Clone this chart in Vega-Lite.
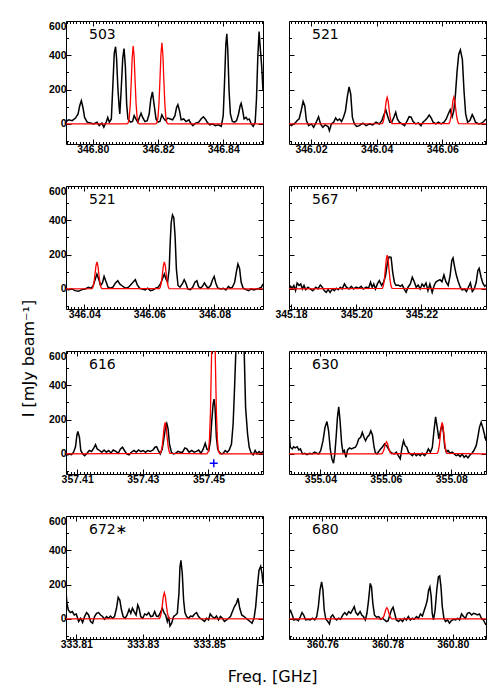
{
"$schema":"https://vega.github.io/schema/vega-lite/v6.json",
"background":"white",
"padding":{"left":19,"top":20,"right":5,"bottom":5},
"columns":2,
"spacing":{"row":42,"column":26},
"bounds":"flush",
"datasets":{
"obs":[
{"p":1,"f":346.7918,"I":14},{"p":1,"f":346.7926,"I":24},{"p":1,"f":346.7937,"I":19},{"p":1,"f":346.7947,"I":34},{"p":1,"f":346.7955,"I":58},{"p":1,"f":346.796,"I":106},{"p":1,"f":346.7965,"I":135},{"p":1,"f":346.797,"I":96},{"p":1,"f":346.7975,"I":38},{"p":1,"f":346.7983,"I":10},{"p":1,"f":346.7993,"I":5},{"p":1,"f":346.8003,"I":0},{"p":1,"f":346.8013,"I":10},{"p":1,"f":346.802,"I":-10},{"p":1,"f":346.8028,"I":5},{"p":1,"f":346.8034,"I":-19},{"p":1,"f":346.8042,"I":14},{"p":1,"f":346.8046,"I":38},{"p":1,"f":346.8051,"I":10},{"p":1,"f":346.8057,"I":29},{"p":1,"f":346.8062,"I":240},{"p":1,"f":346.8066,"I":413},{"p":1,"f":346.807,"I":450},{"p":1,"f":346.8073,"I":384},{"p":1,"f":346.8077,"I":211},{"p":1,"f":346.8081,"I":96},{"p":1,"f":346.8083,"I":58},{"p":1,"f":346.8087,"I":192},{"p":1,"f":346.8092,"I":384},{"p":1,"f":346.8096,"I":439},{"p":1,"f":346.81,"I":336},{"p":1,"f":346.8104,"I":115},{"p":1,"f":346.8108,"I":29},{"p":1,"f":346.8116,"I":10},{"p":1,"f":346.8122,"I":14},{"p":1,"f":346.8127,"I":48},{"p":1,"f":346.8132,"I":29},{"p":1,"f":346.8138,"I":10},{"p":1,"f":346.8143,"I":38},{"p":1,"f":346.8148,"I":62},{"p":1,"f":346.8153,"I":38},{"p":1,"f":346.816,"I":14},{"p":1,"f":346.8167,"I":19},{"p":1,"f":346.8173,"I":58},{"p":1,"f":346.8178,"I":144},{"p":1,"f":346.8183,"I":187},{"p":1,"f":346.8188,"I":115},{"p":1,"f":346.8194,"I":29},{"p":1,"f":346.82,"I":10},{"p":1,"f":346.8206,"I":14},{"p":1,"f":346.8212,"I":53},{"p":1,"f":346.8217,"I":34},{"p":1,"f":346.8223,"I":19},{"p":1,"f":346.823,"I":34},{"p":1,"f":346.8238,"I":29},{"p":1,"f":346.8245,"I":24},{"p":1,"f":346.8252,"I":48},{"p":1,"f":346.8257,"I":96},{"p":1,"f":346.8261,"I":112},{"p":1,"f":346.8266,"I":77},{"p":1,"f":346.8271,"I":24},{"p":1,"f":346.8279,"I":29},{"p":1,"f":346.8286,"I":14},{"p":1,"f":346.8295,"I":24},{"p":1,"f":346.83,"I":5},{"p":1,"f":346.8307,"I":-10},{"p":1,"f":346.8315,"I":5},{"p":1,"f":346.8325,"I":10},{"p":1,"f":346.8332,"I":29},{"p":1,"f":346.8339,"I":42},{"p":1,"f":346.8345,"I":29},{"p":1,"f":346.8351,"I":10},{"p":1,"f":346.8359,"I":-5},{"p":1,"f":346.8367,"I":0},{"p":1,"f":346.8376,"I":-10},{"p":1,"f":346.8385,"I":-5},{"p":1,"f":346.8394,"I":-14},{"p":1,"f":346.84,"I":48},{"p":1,"f":346.8404,"I":240},{"p":1,"f":346.8408,"I":461},{"p":1,"f":346.8411,"I":525},{"p":1,"f":346.8414,"I":432},{"p":1,"f":346.8418,"I":192},{"p":1,"f":346.8422,"I":58},{"p":1,"f":346.8428,"I":14},{"p":1,"f":346.8435,"I":10},{"p":1,"f":346.8441,"I":19},{"p":1,"f":346.8447,"I":58},{"p":1,"f":346.8452,"I":106},{"p":1,"f":346.8455,"I":120},{"p":1,"f":346.8459,"I":86},{"p":1,"f":346.8464,"I":29},{"p":1,"f":346.847,"I":38},{"p":1,"f":346.8475,"I":24},{"p":1,"f":346.848,"I":29},{"p":1,"f":346.8486,"I":0},{"p":1,"f":346.8492,"I":-14},{"p":1,"f":346.8498,"I":10},{"p":1,"f":346.8502,"I":144},{"p":1,"f":346.8506,"I":384},{"p":1,"f":346.851,"I":538},{"p":1,"f":346.8514,"I":432},{"p":1,"f":346.8518,"I":336},{"p":1,"f":346.8522,"I":192},
{"p":2,"f":346.0133,"I":0},{"p":2,"f":346.014,"I":-10},{"p":2,"f":346.0151,"I":4},{"p":2,"f":346.0158,"I":20},{"p":2,"f":346.0164,"I":30},{"p":2,"f":346.017,"I":77},{"p":2,"f":346.0176,"I":131},{"p":2,"f":346.0181,"I":106},{"p":2,"f":346.0186,"I":20},{"p":2,"f":346.0193,"I":-10},{"p":2,"f":346.0201,"I":0},{"p":2,"f":346.0208,"I":-20},{"p":2,"f":346.0216,"I":10},{"p":2,"f":346.0223,"I":42},{"p":2,"f":346.0229,"I":0},{"p":2,"f":346.0236,"I":-20},{"p":2,"f":346.0243,"I":-6},{"p":2,"f":346.0252,"I":-15},{"p":2,"f":346.0256,"I":-39},{"p":2,"f":346.0262,"I":0},{"p":2,"f":346.0269,"I":10},{"p":2,"f":346.0275,"I":35},{"p":2,"f":346.0281,"I":20},{"p":2,"f":346.0287,"I":29},{"p":2,"f":346.0293,"I":14},{"p":2,"f":346.0299,"I":39},{"p":2,"f":346.0305,"I":77},{"p":2,"f":346.0311,"I":164},{"p":2,"f":346.0316,"I":216},{"p":2,"f":346.0321,"I":174},{"p":2,"f":346.0326,"I":39},{"p":2,"f":346.0332,"I":0},{"p":2,"f":346.0339,"I":-15},{"p":2,"f":346.0347,"I":-10},{"p":2,"f":346.0358,"I":4},{"p":2,"f":346.0368,"I":-10},{"p":2,"f":346.0378,"I":0},{"p":2,"f":346.0388,"I":-6},{"p":2,"f":346.0398,"I":10},{"p":2,"f":346.0408,"I":0},{"p":2,"f":346.0416,"I":20},{"p":2,"f":346.0422,"I":54},{"p":2,"f":346.0428,"I":81},{"p":2,"f":346.0434,"I":42},{"p":2,"f":346.044,"I":10},{"p":2,"f":346.0446,"I":10},{"p":2,"f":346.0453,"I":42},{"p":2,"f":346.0458,"I":68},{"p":2,"f":346.0463,"I":29},{"p":2,"f":346.0469,"I":10},{"p":2,"f":346.0477,"I":0},{"p":2,"f":346.0485,"I":-10},{"p":2,"f":346.0492,"I":15},{"p":2,"f":346.0499,"I":42},{"p":2,"f":346.0505,"I":39},{"p":2,"f":346.0511,"I":14},{"p":2,"f":346.0519,"I":0},{"p":2,"f":346.0527,"I":6},{"p":2,"f":346.0535,"I":-10},{"p":2,"f":346.0541,"I":10},{"p":2,"f":346.0547,"I":20},{"p":2,"f":346.0554,"I":35},{"p":2,"f":346.056,"I":52},{"p":2,"f":346.0566,"I":35},{"p":2,"f":346.0572,"I":10},{"p":2,"f":346.058,"I":0},{"p":2,"f":346.0588,"I":10},{"p":2,"f":346.0596,"I":0},{"p":2,"f":346.0605,"I":10},{"p":2,"f":346.0612,"I":29},{"p":2,"f":346.0618,"I":58},{"p":2,"f":346.0624,"I":83},{"p":2,"f":346.063,"I":42},{"p":2,"f":346.0635,"I":77},{"p":2,"f":346.064,"I":174},{"p":2,"f":346.0645,"I":309},{"p":2,"f":346.065,"I":406},{"p":2,"f":346.0655,"I":431},{"p":2,"f":346.0661,"I":377},{"p":2,"f":346.0666,"I":193},{"p":2,"f":346.0671,"I":58},{"p":2,"f":346.0677,"I":10},{"p":2,"f":346.0684,"I":20},{"p":2,"f":346.0691,"I":54},{"p":2,"f":346.0696,"I":35},{"p":2,"f":346.0701,"I":10},{"p":2,"f":346.0711,"I":0},{"p":2,"f":346.0719,"I":4},{"p":2,"f":346.0726,"I":14},{"p":2,"f":346.0733,"I":29},
{"p":3,"f":346.0344,"I":0},{"p":3,"f":346.0352,"I":-4},{"p":3,"f":346.0362,"I":0},{"p":3,"f":346.0372,"I":-10},{"p":3,"f":346.0382,"I":-14},{"p":3,"f":346.0393,"I":-4},{"p":3,"f":346.0403,"I":0},{"p":3,"f":346.0413,"I":10},{"p":3,"f":346.0421,"I":4},{"p":3,"f":346.0428,"I":20},{"p":3,"f":346.0434,"I":58},{"p":3,"f":346.0439,"I":87},{"p":3,"f":346.0445,"I":54},{"p":3,"f":346.045,"I":20},{"p":3,"f":346.0456,"I":35},{"p":3,"f":346.0461,"I":73},{"p":3,"f":346.0467,"I":42},{"p":3,"f":346.0473,"I":10},{"p":3,"f":346.048,"I":4},{"p":3,"f":346.0488,"I":10},{"p":3,"f":346.0496,"I":35},{"p":3,"f":346.0503,"I":48},{"p":3,"f":346.0509,"I":29},{"p":3,"f":346.0515,"I":20},{"p":3,"f":346.0522,"I":10},{"p":3,"f":346.0529,"I":4},{"p":3,"f":346.0536,"I":10},{"p":3,"f":346.0545,"I":29},{"p":3,"f":346.0551,"I":42},{"p":3,"f":346.0557,"I":54},{"p":3,"f":346.0563,"I":23},{"p":3,"f":346.057,"I":4},{"p":3,"f":346.0578,"I":0},{"p":3,"f":346.0587,"I":-6},{"p":3,"f":346.0595,"I":4},{"p":3,"f":346.0603,"I":-10},{"p":3,"f":346.0611,"I":-6},{"p":3,"f":346.0619,"I":4},{"p":3,"f":346.0627,"I":10},{"p":3,"f":346.0634,"I":29},{"p":3,"f":346.064,"I":58},{"p":3,"f":346.0646,"I":87},{"p":3,"f":346.0651,"I":58},{"p":3,"f":346.0656,"I":39},{"p":3,"f":346.0661,"I":116},{"p":3,"f":346.0664,"I":270},{"p":3,"f":346.0667,"I":386},{"p":3,"f":346.0671,"I":431},{"p":3,"f":346.0675,"I":415},{"p":3,"f":346.0679,"I":309},{"p":3,"f":346.0683,"I":116},{"p":3,"f":346.0688,"I":20},{"p":3,"f":346.0694,"I":10},{"p":3,"f":346.0701,"I":29},{"p":3,"f":346.0707,"I":54},{"p":3,"f":346.0712,"I":35},{"p":3,"f":346.0718,"I":0},{"p":3,"f":346.0726,"I":-4},{"p":3,"f":346.0733,"I":10},{"p":3,"f":346.074,"I":39},{"p":3,"f":346.0746,"I":48},{"p":3,"f":346.0751,"I":14},{"p":3,"f":346.0757,"I":4},{"p":3,"f":346.0763,"I":15},{"p":3,"f":346.0769,"I":35},{"p":3,"f":346.0774,"I":20},{"p":3,"f":346.078,"I":4},{"p":3,"f":346.0788,"I":20},{"p":3,"f":346.0794,"I":54},{"p":3,"f":346.0799,"I":73},{"p":3,"f":346.0804,"I":35},{"p":3,"f":346.081,"I":6},{"p":3,"f":346.0819,"I":0},{"p":3,"f":346.0827,"I":4},{"p":3,"f":346.0835,"I":-6},{"p":3,"f":346.0843,"I":15},{"p":3,"f":346.0849,"I":4},{"p":3,"f":346.0855,"I":10},{"p":3,"f":346.0862,"I":39},{"p":3,"f":346.0867,"I":97},{"p":3,"f":346.0872,"I":145},{"p":3,"f":346.0877,"I":120},{"p":3,"f":346.0882,"I":39},{"p":3,"f":346.0888,"I":4},{"p":3,"f":346.0897,"I":-4},{"p":3,"f":346.0905,"I":-10},{"p":3,"f":346.0913,"I":0},{"p":3,"f":346.0921,"I":-6},{"p":3,"f":346.0929,"I":0},{"p":3,"f":346.0938,"I":4},{"p":3,"f":346.0944,"I":10},{"p":3,"f":346.0949,"I":29},
{"p":4,"f":345.1794,"I":0},{"p":4,"f":345.1799,"I":15},{"p":4,"f":345.1804,"I":4},{"p":4,"f":345.1809,"I":20},{"p":4,"f":345.1814,"I":-10},{"p":4,"f":345.1819,"I":35},{"p":4,"f":345.1825,"I":20},{"p":4,"f":345.183,"I":29},{"p":4,"f":345.1835,"I":0},{"p":4,"f":345.184,"I":20},{"p":4,"f":345.1845,"I":-4},{"p":4,"f":345.1852,"I":10},{"p":4,"f":345.1859,"I":0},{"p":4,"f":345.1867,"I":-10},{"p":4,"f":345.1876,"I":10},{"p":4,"f":345.1883,"I":0},{"p":4,"f":345.189,"I":23},{"p":4,"f":345.1896,"I":10},{"p":4,"f":345.1902,"I":-10},{"p":4,"f":345.1908,"I":-20},{"p":4,"f":345.1914,"I":-4},{"p":4,"f":345.192,"I":-20},{"p":4,"f":345.1927,"I":0},{"p":4,"f":345.1933,"I":-10},{"p":4,"f":345.1939,"I":4},{"p":4,"f":345.1945,"I":-4},{"p":4,"f":345.1951,"I":10},{"p":4,"f":345.1957,"I":0},{"p":4,"f":345.1964,"I":29},{"p":4,"f":345.197,"I":10},{"p":4,"f":345.1978,"I":0},{"p":4,"f":345.1985,"I":15},{"p":4,"f":345.1992,"I":0},{"p":4,"f":345.2,"I":10},{"p":4,"f":345.2008,"I":4},{"p":4,"f":345.2015,"I":15},{"p":4,"f":345.2022,"I":0},{"p":4,"f":345.2031,"I":10},{"p":4,"f":345.2038,"I":4},{"p":4,"f":345.2044,"I":39},{"p":4,"f":345.2049,"I":10},{"p":4,"f":345.2054,"I":29},{"p":4,"f":345.2059,"I":0},{"p":4,"f":345.2065,"I":29},{"p":4,"f":345.2071,"I":48},{"p":4,"f":345.2078,"I":20},{"p":4,"f":345.2084,"I":39},{"p":4,"f":345.209,"I":77},{"p":4,"f":345.2096,"I":155},{"p":4,"f":345.2101,"I":187},{"p":4,"f":345.2107,"I":184},{"p":4,"f":345.2112,"I":97},{"p":4,"f":345.2117,"I":39},{"p":4,"f":345.2122,"I":20},{"p":4,"f":345.2129,"I":23},{"p":4,"f":345.2135,"I":15},{"p":4,"f":345.2141,"I":23},{"p":4,"f":345.2147,"I":0},{"p":4,"f":345.2153,"I":-20},{"p":4,"f":345.2159,"I":10},{"p":4,"f":345.2166,"I":29},{"p":4,"f":345.2172,"I":68},{"p":4,"f":345.2178,"I":42},{"p":4,"f":345.2184,"I":10},{"p":4,"f":345.219,"I":23},{"p":4,"f":345.2196,"I":0},{"p":4,"f":345.2202,"I":29},{"p":4,"f":345.2208,"I":14},{"p":4,"f":345.2214,"I":35},{"p":4,"f":345.222,"I":-10},{"p":4,"f":345.2226,"I":29},{"p":4,"f":345.2233,"I":-20},{"p":4,"f":345.2239,"I":20},{"p":4,"f":345.2245,"I":42},{"p":4,"f":345.2251,"I":48},{"p":4,"f":345.2257,"I":54},{"p":4,"f":345.2263,"I":42},{"p":4,"f":345.2269,"I":81},{"p":4,"f":345.2275,"I":42},{"p":4,"f":345.2282,"I":20},{"p":4,"f":345.2288,"I":77},{"p":4,"f":345.2293,"I":164},{"p":4,"f":345.2297,"I":180},{"p":4,"f":345.2302,"I":126},{"p":4,"f":345.2307,"I":81},{"p":4,"f":345.2313,"I":42},{"p":4,"f":345.2319,"I":10},{"p":4,"f":345.2325,"I":-6},{"p":4,"f":345.2332,"I":0},{"p":4,"f":345.2338,"I":-15},{"p":4,"f":345.2344,"I":10},{"p":4,"f":345.235,"I":35},{"p":4,"f":345.2356,"I":-15},{"p":4,"f":345.2362,"I":0},{"p":4,"f":345.2368,"I":39},{"p":4,"f":345.2373,"I":106},{"p":4,"f":345.2377,"I":120},{"p":4,"f":345.2383,"I":68},{"p":4,"f":345.2388,"I":35},{"p":4,"f":345.2394,"I":15},{"p":4,"f":345.2398,"I":23},
{"p":5,"f":357.4066,"I":0},{"p":5,"f":357.4071,"I":-6},{"p":5,"f":357.4077,"I":0},{"p":5,"f":357.4083,"I":-4},{"p":5,"f":357.4089,"I":10},{"p":5,"f":357.4095,"I":42},{"p":5,"f":357.4099,"I":106},{"p":5,"f":357.4102,"I":131},{"p":5,"f":357.4107,"I":97},{"p":5,"f":357.4111,"I":20},{"p":5,"f":357.4117,"I":0},{"p":5,"f":357.4123,"I":-10},{"p":5,"f":357.413,"I":4},{"p":5,"f":357.4137,"I":20},{"p":5,"f":357.4144,"I":14},{"p":5,"f":357.4151,"I":35},{"p":5,"f":357.4156,"I":54},{"p":5,"f":357.4161,"I":29},{"p":5,"f":357.4168,"I":20},{"p":5,"f":357.4175,"I":10},{"p":5,"f":357.4182,"I":23},{"p":5,"f":357.4189,"I":10},{"p":5,"f":357.4196,"I":20},{"p":5,"f":357.4203,"I":6},{"p":5,"f":357.421,"I":23},{"p":5,"f":357.4218,"I":15},{"p":5,"f":357.4225,"I":4},{"p":5,"f":357.4232,"I":29},{"p":5,"f":357.4238,"I":39},{"p":5,"f":357.4244,"I":20},{"p":5,"f":357.4251,"I":0},{"p":5,"f":357.4258,"I":-6},{"p":5,"f":357.4265,"I":10},{"p":5,"f":357.4273,"I":20},{"p":5,"f":357.428,"I":10},{"p":5,"f":357.4287,"I":23},{"p":5,"f":357.4294,"I":14},{"p":5,"f":357.4301,"I":20},{"p":5,"f":357.4308,"I":10},{"p":5,"f":357.4315,"I":20},{"p":5,"f":357.4323,"I":15},{"p":5,"f":357.4331,"I":23},{"p":5,"f":357.4337,"I":39},{"p":5,"f":357.4342,"I":42},{"p":5,"f":357.4347,"I":20},{"p":5,"f":357.4353,"I":0},{"p":5,"f":357.4359,"I":29},{"p":5,"f":357.4364,"I":87},{"p":5,"f":357.4369,"I":155},{"p":5,"f":357.4373,"I":178},{"p":5,"f":357.4377,"I":145},{"p":5,"f":357.4381,"I":58},{"p":5,"f":357.4387,"I":10},{"p":5,"f":357.4393,"I":0},{"p":5,"f":357.44,"I":4},{"p":5,"f":357.4407,"I":15},{"p":5,"f":357.4414,"I":10},{"p":5,"f":357.4421,"I":10},{"p":5,"f":357.4428,"I":35},{"p":5,"f":357.4434,"I":29},{"p":5,"f":357.4441,"I":10},{"p":5,"f":357.4449,"I":20},{"p":5,"f":357.4456,"I":10},{"p":5,"f":357.4463,"I":15},{"p":5,"f":357.447,"I":23},{"p":5,"f":357.4477,"I":4},{"p":5,"f":357.4484,"I":29},{"p":5,"f":357.449,"I":62},{"p":5,"f":357.4495,"I":29},{"p":5,"f":357.4501,"I":20},{"p":5,"f":357.4506,"I":77},{"p":5,"f":357.451,"I":193},{"p":5,"f":357.4514,"I":290},{"p":5,"f":357.4517,"I":319},{"p":5,"f":357.452,"I":270},{"p":5,"f":357.4524,"I":97},{"p":5,"f":357.4528,"I":29},{"p":5,"f":357.4533,"I":10},{"p":5,"f":357.4539,"I":0},{"p":5,"f":357.4545,"I":4},{"p":5,"f":357.4551,"I":20},{"p":5,"f":357.4557,"I":10},{"p":5,"f":357.4563,"I":23},{"p":5,"f":357.457,"I":58},{"p":5,"f":357.4575,"I":174},{"p":5,"f":357.4579,"I":367},{"p":5,"f":357.4583,"I":580},{"p":5,"f":357.4586,"I":800},{"p":5,"f":357.4593,"I":1100},{"p":5,"f":357.46,"I":950},{"p":5,"f":357.4608,"I":650},{"p":5,"f":357.4613,"I":270},{"p":5,"f":357.4619,"I":116},{"p":5,"f":357.4624,"I":39},{"p":5,"f":357.4629,"I":10},{"p":5,"f":357.4636,"I":-6},{"p":5,"f":357.4642,"I":20},{"p":5,"f":357.4648,"I":0},{"p":5,"f":357.4654,"I":14},{"p":5,"f":357.466,"I":4},{"p":5,"f":357.4666,"I":15},
{"p":6,"f":355.0304,"I":126},{"p":6,"f":355.0308,"I":39},{"p":6,"f":355.0314,"I":29},{"p":6,"f":355.0318,"I":42},{"p":6,"f":355.0323,"I":35},{"p":6,"f":355.0329,"I":42},{"p":6,"f":355.0334,"I":23},{"p":6,"f":355.0339,"I":29},{"p":6,"f":355.0345,"I":0},{"p":6,"f":355.0352,"I":4},{"p":6,"f":355.0359,"I":-4},{"p":6,"f":355.0367,"I":4},{"p":6,"f":355.0375,"I":0},{"p":6,"f":355.0382,"I":10},{"p":6,"f":355.0389,"I":4},{"p":6,"f":355.0395,"I":0},{"p":6,"f":355.0401,"I":20},{"p":6,"f":355.0408,"I":77},{"p":6,"f":355.0414,"I":155},{"p":6,"f":355.042,"I":189},{"p":6,"f":355.0425,"I":135},{"p":6,"f":355.043,"I":29},{"p":6,"f":355.0435,"I":-29},{"p":6,"f":355.044,"I":-54},{"p":6,"f":355.0444,"I":0},{"p":6,"f":355.0448,"I":97},{"p":6,"f":355.0452,"I":213},{"p":6,"f":355.0456,"I":274},{"p":6,"f":355.046,"I":193},{"p":6,"f":355.0465,"I":58},{"p":6,"f":355.0469,"I":10},{"p":6,"f":355.0473,"I":20},{"p":6,"f":355.0478,"I":-20},{"p":6,"f":355.0483,"I":23},{"p":6,"f":355.0489,"I":35},{"p":6,"f":355.0495,"I":29},{"p":6,"f":355.0501,"I":35},{"p":6,"f":355.0507,"I":39},{"p":6,"f":355.0512,"I":58},{"p":6,"f":355.0517,"I":87},{"p":6,"f":355.0523,"I":97},{"p":6,"f":355.0528,"I":126},{"p":6,"f":355.0533,"I":97},{"p":6,"f":355.0538,"I":77},{"p":6,"f":355.0543,"I":97},{"p":6,"f":355.0549,"I":110},{"p":6,"f":355.0554,"I":135},{"p":6,"f":355.0559,"I":110},{"p":6,"f":355.0564,"I":39},{"p":6,"f":355.0568,"I":6},{"p":6,"f":355.0573,"I":0},{"p":6,"f":355.0578,"I":14},{"p":6,"f":355.0584,"I":29},{"p":6,"f":355.059,"I":42},{"p":6,"f":355.0596,"I":58},{"p":6,"f":355.0602,"I":48},{"p":6,"f":355.0608,"I":29},{"p":6,"f":355.0614,"I":10},{"p":6,"f":355.062,"I":4},{"p":6,"f":355.0626,"I":0},{"p":6,"f":355.0632,"I":10},{"p":6,"f":355.0638,"I":-10},{"p":6,"f":355.0644,"I":-29},{"p":6,"f":355.0649,"I":35},{"p":6,"f":355.0654,"I":77},{"p":6,"f":355.0659,"I":48},{"p":6,"f":355.0664,"I":39},{"p":6,"f":355.0669,"I":10},{"p":6,"f":355.0675,"I":0},{"p":6,"f":355.0681,"I":-10},{"p":6,"f":355.0687,"I":4},{"p":6,"f":355.0693,"I":-10},{"p":6,"f":355.0699,"I":0},{"p":6,"f":355.0705,"I":-10},{"p":6,"f":355.0711,"I":4},{"p":6,"f":355.0718,"I":-10},{"p":6,"f":355.0724,"I":4},{"p":6,"f":355.073,"I":29},{"p":6,"f":355.0736,"I":10},{"p":6,"f":355.0742,"I":39},{"p":6,"f":355.0747,"I":135},{"p":6,"f":355.0752,"I":216},{"p":6,"f":355.0757,"I":155},{"p":6,"f":355.0762,"I":87},{"p":6,"f":355.0767,"I":135},{"p":6,"f":355.0772,"I":174},{"p":6,"f":355.0776,"I":126},{"p":6,"f":355.078,"I":39},{"p":6,"f":355.0785,"I":10},{"p":6,"f":355.079,"I":20},{"p":6,"f":355.0796,"I":4},{"p":6,"f":355.0803,"I":10},{"p":6,"f":355.0809,"I":0},{"p":6,"f":355.0815,"I":-10},{"p":6,"f":355.0821,"I":-4},{"p":6,"f":355.0827,"I":-15},{"p":6,"f":355.0833,"I":0},{"p":6,"f":355.0839,"I":-20},{"p":6,"f":355.0845,"I":-10},{"p":6,"f":355.0851,"I":-23},{"p":6,"f":355.0857,"I":-6},{"p":6,"f":355.0863,"I":4},{"p":6,"f":355.0869,"I":20},{"p":6,"f":355.0876,"I":48},{"p":6,"f":355.0881,"I":97},{"p":6,"f":355.0886,"I":155},{"p":6,"f":355.0891,"I":184},{"p":6,"f":355.0896,"I":155},{"p":6,"f":355.0901,"I":116},{"p":6,"f":355.0906,"I":77},
{"p":7,"f":333.8069,"I":155},{"p":7,"f":333.8072,"I":91},{"p":7,"f":333.8076,"I":52},{"p":7,"f":333.8082,"I":37},{"p":7,"f":333.8088,"I":43},{"p":7,"f":333.8094,"I":23},{"p":7,"f":333.81,"I":29},{"p":7,"f":333.8107,"I":-15},{"p":7,"f":333.8113,"I":4},{"p":7,"f":333.8119,"I":-21},{"p":7,"f":333.8125,"I":14},{"p":7,"f":333.8131,"I":37},{"p":7,"f":333.8137,"I":23},{"p":7,"f":333.8143,"I":-15},{"p":7,"f":333.8149,"I":-25},{"p":7,"f":333.8155,"I":14},{"p":7,"f":333.8161,"I":33},{"p":7,"f":333.8167,"I":37},{"p":7,"f":333.8173,"I":23},{"p":7,"f":333.8179,"I":14},{"p":7,"f":333.8185,"I":-2},{"p":7,"f":333.8191,"I":14},{"p":7,"f":333.8197,"I":4},{"p":7,"f":333.8203,"I":17},{"p":7,"f":333.8209,"I":4},{"p":7,"f":333.8215,"I":14},{"p":7,"f":333.8221,"I":62},{"p":7,"f":333.8226,"I":126},{"p":7,"f":333.8231,"I":110},{"p":7,"f":333.8236,"I":52},{"p":7,"f":333.8241,"I":14},{"p":7,"f":333.8247,"I":4},{"p":7,"f":333.8253,"I":23},{"p":7,"f":333.8259,"I":56},{"p":7,"f":333.8264,"I":33},{"p":7,"f":333.8269,"I":62},{"p":7,"f":333.8274,"I":43},{"p":7,"f":333.828,"I":23},{"p":7,"f":333.8285,"I":81},{"p":7,"f":333.8289,"I":62},{"p":7,"f":333.8294,"I":14},{"p":7,"f":333.83,"I":4},{"p":7,"f":333.8306,"I":29},{"p":7,"f":333.8312,"I":23},{"p":7,"f":333.8318,"I":37},{"p":7,"f":333.8324,"I":14},{"p":7,"f":333.833,"I":17},{"p":7,"f":333.8336,"I":43},{"p":7,"f":333.8341,"I":17},{"p":7,"f":333.8347,"I":14},{"p":7,"f":333.8353,"I":37},{"p":7,"f":333.8359,"I":62},{"p":7,"f":333.8364,"I":37},{"p":7,"f":333.8369,"I":23},{"p":7,"f":333.8374,"I":-15},{"p":7,"f":333.8378,"I":14},{"p":7,"f":333.8382,"I":-41},{"p":7,"f":333.8387,"I":-25},{"p":7,"f":333.8393,"I":14},{"p":7,"f":333.8399,"I":23},{"p":7,"f":333.8404,"I":33},{"p":7,"f":333.8409,"I":149},{"p":7,"f":333.8412,"I":303},{"p":7,"f":333.8415,"I":342},{"p":7,"f":333.8419,"I":265},{"p":7,"f":333.8423,"I":110},{"p":7,"f":333.8427,"I":37},{"p":7,"f":333.8432,"I":14},{"p":7,"f":333.8438,"I":4},{"p":7,"f":333.8444,"I":17},{"p":7,"f":333.845,"I":14},{"p":7,"f":333.8456,"I":29},{"p":7,"f":333.8462,"I":37},{"p":7,"f":333.8468,"I":14},{"p":7,"f":333.8473,"I":4},{"p":7,"f":333.848,"I":-6},{"p":7,"f":333.8486,"I":-15},{"p":7,"f":333.8492,"I":4},{"p":7,"f":333.8498,"I":-6},{"p":7,"f":333.8503,"I":29},{"p":7,"f":333.8509,"I":14},{"p":7,"f":333.8516,"I":4},{"p":7,"f":333.8522,"I":17},{"p":7,"f":333.8528,"I":-6},{"p":7,"f":333.8534,"I":14},{"p":7,"f":333.854,"I":4},{"p":7,"f":333.8546,"I":-15},{"p":7,"f":333.8552,"I":-6},{"p":7,"f":333.8558,"I":4},{"p":7,"f":333.8564,"I":14},{"p":7,"f":333.857,"I":43},{"p":7,"f":333.8576,"I":72},{"p":7,"f":333.8582,"I":91},{"p":7,"f":333.8587,"I":120},{"p":7,"f":333.8592,"I":62},{"p":7,"f":333.8598,"I":23},{"p":7,"f":333.8605,"I":14},{"p":7,"f":333.8611,"I":4},{"p":7,"f":333.8617,"I":-6},{"p":7,"f":333.8623,"I":-15},{"p":7,"f":333.8629,"I":-25},{"p":7,"f":333.8635,"I":4},{"p":7,"f":333.864,"I":72},{"p":7,"f":333.8645,"I":187},{"p":7,"f":333.865,"I":284},{"p":7,"f":333.8655,"I":307},{"p":7,"f":333.8659,"I":265},{"p":7,"f":333.8662,"I":207},
{"p":8,"f":360.7498,"I":33},{"p":8,"f":360.7503,"I":48},{"p":8,"f":360.7508,"I":23},{"p":8,"f":360.7513,"I":-6},{"p":8,"f":360.752,"I":-2},{"p":8,"f":360.7527,"I":-10},{"p":8,"f":360.7533,"I":14},{"p":8,"f":360.7538,"I":37},{"p":8,"f":360.7543,"I":23},{"p":8,"f":360.7549,"I":-6},{"p":8,"f":360.7556,"I":-2},{"p":8,"f":360.7563,"I":-6},{"p":8,"f":360.757,"I":4},{"p":8,"f":360.7577,"I":-6},{"p":8,"f":360.7583,"I":14},{"p":8,"f":360.7588,"I":72},{"p":8,"f":360.7593,"I":168},{"p":8,"f":360.7598,"I":216},{"p":8,"f":360.7602,"I":168},{"p":8,"f":360.7606,"I":52},{"p":8,"f":360.7611,"I":-2},{"p":8,"f":360.7617,"I":-15},{"p":8,"f":360.7622,"I":-29},{"p":8,"f":360.7627,"I":14},{"p":8,"f":360.7632,"I":23},{"p":8,"f":360.7638,"I":4},{"p":8,"f":360.7644,"I":-6},{"p":8,"f":360.765,"I":4},{"p":8,"f":360.7656,"I":-2},{"p":8,"f":360.7663,"I":23},{"p":8,"f":360.7669,"I":37},{"p":8,"f":360.7675,"I":23},{"p":8,"f":360.7681,"I":43},{"p":8,"f":360.7687,"I":33},{"p":8,"f":360.7693,"I":52},{"p":8,"f":360.7698,"I":72},{"p":8,"f":360.7703,"I":37},{"p":8,"f":360.7709,"I":23},{"p":8,"f":360.7716,"I":43},{"p":8,"f":360.7721,"I":23},{"p":8,"f":360.7726,"I":14},{"p":8,"f":360.7732,"I":-6},{"p":8,"f":360.7737,"I":33},{"p":8,"f":360.7742,"I":110},{"p":8,"f":360.7747,"I":207},{"p":8,"f":360.7751,"I":187},{"p":8,"f":360.7755,"I":91},{"p":8,"f":360.776,"I":23},{"p":8,"f":360.7766,"I":10},{"p":8,"f":360.7773,"I":14},{"p":8,"f":360.7779,"I":-2},{"p":8,"f":360.7785,"I":4},{"p":8,"f":360.7791,"I":-6},{"p":8,"f":360.7797,"I":-15},{"p":8,"f":360.7802,"I":-10},{"p":8,"f":360.7807,"I":23},{"p":8,"f":360.7812,"I":52},{"p":8,"f":360.7817,"I":68},{"p":8,"f":360.7822,"I":33},{"p":8,"f":360.7827,"I":-6},{"p":8,"f":360.7834,"I":-15},{"p":8,"f":360.784,"I":-2},{"p":8,"f":360.7846,"I":-15},{"p":8,"f":360.7852,"I":4},{"p":8,"f":360.7858,"I":-6},{"p":8,"f":360.7864,"I":14},{"p":8,"f":360.787,"I":-6},{"p":8,"f":360.7876,"I":4},{"p":8,"f":360.7882,"I":-2},{"p":8,"f":360.7889,"I":14},{"p":8,"f":360.7895,"I":4},{"p":8,"f":360.7901,"I":29},{"p":8,"f":360.7907,"I":17},{"p":8,"f":360.7913,"I":52},{"p":8,"f":360.7918,"I":81},{"p":8,"f":360.7922,"I":110},{"p":8,"f":360.7926,"I":168},{"p":8,"f":360.793,"I":187},{"p":8,"f":360.7934,"I":130},{"p":8,"f":360.7937,"I":33},{"p":8,"f":360.7941,"I":-6},{"p":8,"f":360.7946,"I":52},{"p":8,"f":360.7951,"I":168},{"p":8,"f":360.7956,"I":245},{"p":8,"f":360.796,"I":251},{"p":8,"f":360.7964,"I":187},{"p":8,"f":360.7968,"I":72},{"p":8,"f":360.7973,"I":4},{"p":8,"f":360.7978,"I":-15},{"p":8,"f":360.7984,"I":-6},{"p":8,"f":360.799,"I":-25},{"p":8,"f":360.7996,"I":-10},{"p":8,"f":360.8003,"I":-2},{"p":8,"f":360.8009,"I":-6},{"p":8,"f":360.8015,"I":4},{"p":8,"f":360.8021,"I":-6},{"p":8,"f":360.8027,"I":29},{"p":8,"f":360.8033,"I":14},{"p":8,"f":360.8039,"I":4},{"p":8,"f":360.8045,"I":33},{"p":8,"f":360.8051,"I":37},{"p":8,"f":360.8058,"I":23},{"p":8,"f":360.8064,"I":33},{"p":8,"f":360.807,"I":29},{"p":8,"f":360.8076,"I":23},{"p":8,"f":360.8082,"I":29},{"p":8,"f":360.8088,"I":4},{"p":8,"f":360.8094,"I":-6},{"p":8,"f":360.8099,"I":-25},{"p":8,"f":360.8102,"I":-35}
],
"model":[
{"p":1,"f":346.7918,"I":0},{"p":1,"f":346.8105,"I":0},{"p":1,"f":346.8109,"I":7},{"p":1,"f":346.8112,"I":38},{"p":1,"f":346.8115,"I":113},{"p":1,"f":346.8118,"I":245},{"p":1,"f":346.8121,"I":389},{"p":1,"f":346.8124,"I":454},{"p":1,"f":346.8127,"I":389},{"p":1,"f":346.813,"I":245},{"p":1,"f":346.8133,"I":113},{"p":1,"f":346.8136,"I":38},{"p":1,"f":346.8139,"I":7},{"p":1,"f":346.8143,"I":0},{"p":1,"f":346.8193,"I":0},{"p":1,"f":346.8197,"I":7},{"p":1,"f":346.82,"I":40},{"p":1,"f":346.8203,"I":118},{"p":1,"f":346.8206,"I":255},{"p":1,"f":346.8209,"I":405},{"p":1,"f":346.8212,"I":473},{"p":1,"f":346.8215,"I":405},{"p":1,"f":346.8218,"I":255},{"p":1,"f":346.8221,"I":118},{"p":1,"f":346.8224,"I":40},{"p":1,"f":346.8227,"I":7},{"p":1,"f":346.8231,"I":0},{"p":1,"f":346.8522,"I":0},
{"p":2,"f":346.0133,"I":0},{"p":2,"f":346.0417,"I":2},{"p":2,"f":346.042,"I":13},{"p":2,"f":346.0423,"I":39},{"p":2,"f":346.0426,"I":84},{"p":2,"f":346.0429,"I":133},{"p":2,"f":346.0432,"I":155},{"p":2,"f":346.0435,"I":133},{"p":2,"f":346.0438,"I":84},{"p":2,"f":346.0441,"I":39},{"p":2,"f":346.0444,"I":13},{"p":2,"f":346.0447,"I":2},{"p":2,"f":346.062,"I":2},{"p":2,"f":346.0623,"I":13},{"p":2,"f":346.0626,"I":39},{"p":2,"f":346.0629,"I":84},{"p":2,"f":346.0632,"I":133},{"p":2,"f":346.0635,"I":155},{"p":2,"f":346.0638,"I":133},{"p":2,"f":346.0641,"I":84},{"p":2,"f":346.0644,"I":39},{"p":2,"f":346.0647,"I":13},{"p":2,"f":346.065,"I":2},{"p":2,"f":346.0733,"I":0},
{"p":3,"f":346.0344,"I":0},{"p":3,"f":346.0424,"I":2},{"p":3,"f":346.0427,"I":13},{"p":3,"f":346.043,"I":39},{"p":3,"f":346.0433,"I":85},{"p":3,"f":346.0436,"I":135},{"p":3,"f":346.0439,"I":158},{"p":3,"f":346.0442,"I":135},{"p":3,"f":346.0445,"I":85},{"p":3,"f":346.0448,"I":39},{"p":3,"f":346.0451,"I":13},{"p":3,"f":346.0454,"I":2},{"p":3,"f":346.0631,"I":2},{"p":3,"f":346.0634,"I":13},{"p":3,"f":346.0637,"I":39},{"p":3,"f":346.064,"I":85},{"p":3,"f":346.0643,"I":135},{"p":3,"f":346.0646,"I":158},{"p":3,"f":346.0649,"I":135},{"p":3,"f":346.0652,"I":85},{"p":3,"f":346.0655,"I":39},{"p":3,"f":346.0658,"I":13},{"p":3,"f":346.0661,"I":2},{"p":3,"f":346.0949,"I":0},
{"p":4,"f":345.1794,"I":0},{"p":4,"f":345.208,"I":3},{"p":4,"f":345.2083,"I":17},{"p":4,"f":345.2086,"I":49},{"p":4,"f":345.2089,"I":106},{"p":4,"f":345.2092,"I":169},{"p":4,"f":345.2095,"I":197},{"p":4,"f":345.2098,"I":169},{"p":4,"f":345.2101,"I":106},{"p":4,"f":345.2104,"I":49},{"p":4,"f":345.2107,"I":17},{"p":4,"f":345.211,"I":3},{"p":4,"f":345.2398,"I":0},
{"p":5,"f":357.4066,"I":0},{"p":5,"f":357.4353,"I":3},{"p":5,"f":357.4356,"I":16},{"p":5,"f":357.4359,"I":46},{"p":5,"f":357.4362,"I":99},{"p":5,"f":357.4365,"I":158},{"p":5,"f":357.4368,"I":184},{"p":5,"f":357.4371,"I":158},{"p":5,"f":357.4374,"I":99},{"p":5,"f":357.4377,"I":46},{"p":5,"f":357.438,"I":16},{"p":5,"f":357.4383,"I":3},{"p":5,"f":357.4495,"I":0},{"p":5,"f":357.45,"I":15},{"p":5,"f":357.4503,"I":85},{"p":5,"f":357.4506,"I":249},{"p":5,"f":357.4509,"I":539},{"p":5,"f":357.4512,"I":857},{"p":5,"f":357.4515,"I":1000},{"p":5,"f":357.4518,"I":857},{"p":5,"f":357.4521,"I":539},{"p":5,"f":357.4524,"I":249},{"p":5,"f":357.4527,"I":85},{"p":5,"f":357.453,"I":15},{"p":5,"f":357.4535,"I":0},{"p":5,"f":357.4666,"I":0},
{"p":6,"f":355.0304,"I":0},{"p":6,"f":355.0587,"I":1},{"p":6,"f":355.059,"I":6},{"p":6,"f":355.0593,"I":18},{"p":6,"f":355.0596,"I":38},{"p":6,"f":355.0599,"I":61},{"p":6,"f":355.0602,"I":71},{"p":6,"f":355.0605,"I":61},{"p":6,"f":355.0608,"I":38},{"p":6,"f":355.0611,"I":18},{"p":6,"f":355.0614,"I":6},{"p":6,"f":355.0617,"I":1},{"p":6,"f":355.0757,"I":3},{"p":6,"f":355.076,"I":16},{"p":6,"f":355.0763,"I":46},{"p":6,"f":355.0766,"I":99},{"p":6,"f":355.0769,"I":158},{"p":6,"f":355.0772,"I":184},{"p":6,"f":355.0775,"I":158},{"p":6,"f":355.0778,"I":99},{"p":6,"f":355.0781,"I":46},{"p":6,"f":355.0784,"I":16},{"p":6,"f":355.0787,"I":3},{"p":6,"f":355.0906,"I":0},
{"p":7,"f":333.8069,"I":0},{"p":7,"f":333.835,"I":2},{"p":7,"f":333.8353,"I":13},{"p":7,"f":333.8356,"I":38},{"p":7,"f":333.8359,"I":82},{"p":7,"f":333.8362,"I":131},{"p":7,"f":333.8365,"I":153},{"p":7,"f":333.8368,"I":131},{"p":7,"f":333.8371,"I":82},{"p":7,"f":333.8374,"I":38},{"p":7,"f":333.8377,"I":13},{"p":7,"f":333.838,"I":2},{"p":7,"f":333.8662,"I":0},
{"p":8,"f":360.7498,"I":0},{"p":8,"f":360.7783,"I":1},{"p":8,"f":360.7786,"I":6},{"p":8,"f":360.7789,"I":16},{"p":8,"f":360.7792,"I":36},{"p":8,"f":360.7795,"I":57},{"p":8,"f":360.7798,"I":66},{"p":8,"f":360.7801,"I":57},{"p":8,"f":360.7804,"I":36},{"p":8,"f":360.7807,"I":16},{"p":8,"f":360.781,"I":6},{"p":8,"f":360.7813,"I":1},{"p":8,"f":360.8102,"I":0}
],
"marker":[{"p":5,"f":357.4516,"I":-54}]
},
"concat":[
{"width":197,"height":123,"title":"503","layer":[
 {"data":{"name":"obs"},"transform":[{"filter":"datum.p==1"}],"mark":{"type":"line","color":"black","strokeWidth":1.5,"clip":true},
  "encoding":{"x":{"field":"f","type":"quantitative","title":null,"scale":{"domain":[346.7918,346.8522],"nice":false,"zero":false},"axis":{"orient":"bottom","tickCount":60,"labelExpr":"abs(datum.value*50-round(datum.value*50))<0.01 ? format(datum.value,'.2f') : ''","tickSize":{"condition":{"test":"abs(datum.value*50-round(datum.value*50))<0.01","value":-5},"value":-2.5}}},
   "y":{"field":"I","type":"quantitative","title":null,"scale":{"domain":[-117,600],"nice":false},"axis":{"orient":"left","values":[-100,0,100,200,300,400,500,600],"labelExpr":"datum.value%200==0&&datum.value>=0?datum.label:''","tickSize":{"condition":{"test":"datum.value%200==0","value":-5},"value":-2.5}}}}},
 {"data":{"name":"model"},"transform":[{"filter":"datum.p==1"}],"mark":{"type":"line","color":"#ff0000","strokeWidth":1.3,"clip":true},
  "encoding":{"x":{"field":"f","type":"quantitative","title":null,"axis":{"orient":"top","labels":false,"tickCount":60,"tickSize":{"condition":{"test":"abs(datum.value*50-round(datum.value*50))<0.01","value":-5},"value":-2.5}}},
   "y":{"field":"I","type":"quantitative","title":null,"axis":{"orient":"right","labels":false,"values":[-100,0,100,200,300,400,500,600],"tickSize":{"condition":{"test":"datum.value%200==0","value":-5},"value":-2.5}}}}}
 ],"resolve":{"axis":{"x":"independent","y":"independent"}}},
{"width":197,"height":123,"title":"521","layer":[
 {"data":{"name":"obs"},"transform":[{"filter":"datum.p==2"}],"mark":{"type":"line","color":"black","strokeWidth":1.5,"clip":true},
  "encoding":{"x":{"field":"f","type":"quantitative","title":null,"scale":{"domain":[346.0133,346.0733],"nice":false,"zero":false},"axis":{"orient":"bottom","tickCount":60,"labelExpr":"abs(datum.value*50-round(datum.value*50))<0.01 ? format(datum.value,'.2f') : ''","tickSize":{"condition":{"test":"abs(datum.value*50-round(datum.value*50))<0.01","value":-5},"value":-2.5}}},
   "y":{"field":"I","type":"quantitative","title":null,"scale":{"domain":[-117,600],"nice":false},"axis":{"orient":"left","labels":false,"values":[-100,0,100,200,300,400,500,600],"tickSize":{"condition":{"test":"datum.value%200==0","value":-5},"value":-2.5}}}}},
 {"data":{"name":"model"},"transform":[{"filter":"datum.p==2"}],"mark":{"type":"line","color":"#ff0000","strokeWidth":1.3,"clip":true},
  "encoding":{"x":{"field":"f","type":"quantitative","title":null,"axis":{"orient":"top","labels":false,"tickCount":60,"tickSize":{"condition":{"test":"abs(datum.value*50-round(datum.value*50))<0.01","value":-5},"value":-2.5}}},
   "y":{"field":"I","type":"quantitative","title":null,"axis":{"orient":"right","labels":false,"values":[-100,0,100,200,300,400,500,600],"tickSize":{"condition":{"test":"datum.value%200==0","value":-5},"value":-2.5}}}}}
 ],"resolve":{"axis":{"x":"independent","y":"independent"}}},
{"width":197,"height":123,"title":"521","layer":[
 {"data":{"name":"obs"},"transform":[{"filter":"datum.p==3"}],"mark":{"type":"line","color":"black","strokeWidth":1.5,"clip":true},
  "encoding":{"x":{"field":"f","type":"quantitative","title":null,"scale":{"domain":[346.0344,346.0949],"nice":false,"zero":false},"axis":{"orient":"bottom","tickCount":60,"labelExpr":"abs(datum.value*50-round(datum.value*50))<0.01 ? format(datum.value,'.2f') : ''","tickSize":{"condition":{"test":"abs(datum.value*50-round(datum.value*50))<0.01","value":-5},"value":-2.5}}},
   "y":{"field":"I","type":"quantitative","scale":{"domain":[-117,600],"nice":false},"axis":{"orient":"left","title":"I [mJy beam⁻¹]","titleX":-38,"titleY":172,"titleBaseline":"middle","titleAngle":-90,"values":[-100,0,100,200,300,400,500,600],"labelExpr":"datum.value%200==0&&datum.value>=0?datum.label:''","tickSize":{"condition":{"test":"datum.value%200==0","value":-5},"value":-2.5}}}}},
 {"data":{"name":"model"},"transform":[{"filter":"datum.p==3"}],"mark":{"type":"line","color":"#ff0000","strokeWidth":1.3,"clip":true},
  "encoding":{"x":{"field":"f","type":"quantitative","title":null,"axis":{"orient":"top","labels":false,"tickCount":60,"tickSize":{"condition":{"test":"abs(datum.value*50-round(datum.value*50))<0.01","value":-5},"value":-2.5}}},
   "y":{"field":"I","type":"quantitative","title":null,"axis":{"orient":"right","labels":false,"values":[-100,0,100,200,300,400,500,600],"tickSize":{"condition":{"test":"datum.value%200==0","value":-5},"value":-2.5}}}}}
 ],"resolve":{"axis":{"x":"independent","y":"independent"}}},
{"width":197,"height":123,"title":"567","layer":[
 {"data":{"name":"obs"},"transform":[{"filter":"datum.p==4"}],"mark":{"type":"line","color":"black","strokeWidth":1.5,"clip":true},
  "encoding":{"x":{"field":"f","type":"quantitative","title":null,"scale":{"domain":[345.1794,345.2398],"nice":false,"zero":false},"axis":{"orient":"bottom","tickCount":60,"labelExpr":"abs(datum.value*50-round(datum.value*50))<0.01 ? format(datum.value,'.2f') : ''","tickSize":{"condition":{"test":"abs(datum.value*50-round(datum.value*50))<0.01","value":-5},"value":-2.5}}},
   "y":{"field":"I","type":"quantitative","title":null,"scale":{"domain":[-117,600],"nice":false},"axis":{"orient":"left","labels":false,"values":[-100,0,100,200,300,400,500,600],"tickSize":{"condition":{"test":"datum.value%200==0","value":-5},"value":-2.5}}}}},
 {"data":{"name":"model"},"transform":[{"filter":"datum.p==4"}],"mark":{"type":"line","color":"#ff0000","strokeWidth":1.3,"clip":true},
  "encoding":{"x":{"field":"f","type":"quantitative","title":null,"axis":{"orient":"top","labels":false,"tickCount":60,"tickSize":{"condition":{"test":"abs(datum.value*50-round(datum.value*50))<0.01","value":-5},"value":-2.5}}},
   "y":{"field":"I","type":"quantitative","title":null,"axis":{"orient":"right","labels":false,"values":[-100,0,100,200,300,400,500,600],"tickSize":{"condition":{"test":"datum.value%200==0","value":-5},"value":-2.5}}}}}
 ],"resolve":{"axis":{"x":"independent","y":"independent"}}},
{"width":197,"height":123,"title":"616","layer":[
 {"data":{"name":"obs"},"transform":[{"filter":"datum.p==5"}],"mark":{"type":"line","color":"black","strokeWidth":1.5,"clip":true},
  "encoding":{"x":{"field":"f","type":"quantitative","title":null,"scale":{"domain":[357.4066,357.4666],"nice":false,"zero":false},"axis":{"orient":"bottom","tickCount":60,"labelExpr":"abs((datum.value-0.01)*50-round((datum.value-0.01)*50))<0.01 ? format(datum.value,'.2f') : ''","tickSize":{"condition":{"test":"abs((datum.value-0.01)*50-round((datum.value-0.01)*50))<0.01","value":-5},"value":-2.5}}},
   "y":{"field":"I","type":"quantitative","title":null,"scale":{"domain":[-117,600],"nice":false},"axis":{"orient":"left","values":[-100,0,100,200,300,400,500,600],"labelExpr":"datum.value%200==0&&datum.value>=0?datum.label:''","tickSize":{"condition":{"test":"datum.value%200==0","value":-5},"value":-2.5}}}}},
 {"data":{"name":"model"},"transform":[{"filter":"datum.p==5"}],"mark":{"type":"line","color":"#ff0000","strokeWidth":1.3,"clip":true},
  "encoding":{"x":{"field":"f","type":"quantitative","title":null,"axis":{"orient":"top","labels":false,"tickCount":60,"tickSize":{"condition":{"test":"abs((datum.value-0.01)*50-round((datum.value-0.01)*50))<0.01","value":-5},"value":-2.5}}},
   "y":{"field":"I","type":"quantitative","title":null,"axis":{"orient":"right","labels":false,"values":[-100,0,100,200,300,400,500,600],"tickSize":{"condition":{"test":"datum.value%200==0","value":-5},"value":-2.5}}}}},
 {"data":{"name":"marker"},"mark":{"type":"point","shape":"M-1,0L1,0M0,-1L0,1","size":64,"filled":false,"stroke":"#0000ff","strokeWidth":1.5,"opacity":1},
  "encoding":{"x":{"field":"f","type":"quantitative","axis":null},"y":{"field":"I","type":"quantitative","axis":null}}}
 ],"resolve":{"axis":{"x":"independent","y":"independent"}}},
{"width":197,"height":123,"title":"630","layer":[
 {"data":{"name":"obs"},"transform":[{"filter":"datum.p==6"}],"mark":{"type":"line","color":"black","strokeWidth":1.5,"clip":true},
  "encoding":{"x":{"field":"f","type":"quantitative","title":null,"scale":{"domain":[355.0304,355.0906],"nice":false,"zero":false},"axis":{"orient":"bottom","tickCount":60,"labelExpr":"abs(datum.value*50-round(datum.value*50))<0.01 ? format(datum.value,'.2f') : ''","tickSize":{"condition":{"test":"abs(datum.value*50-round(datum.value*50))<0.01","value":-5},"value":-2.5}}},
   "y":{"field":"I","type":"quantitative","title":null,"scale":{"domain":[-117,600],"nice":false},"axis":{"orient":"left","labels":false,"values":[-100,0,100,200,300,400,500,600],"tickSize":{"condition":{"test":"datum.value%200==0","value":-5},"value":-2.5}}}}},
 {"data":{"name":"model"},"transform":[{"filter":"datum.p==6"}],"mark":{"type":"line","color":"#ff0000","strokeWidth":1.3,"clip":true},
  "encoding":{"x":{"field":"f","type":"quantitative","title":null,"axis":{"orient":"top","labels":false,"tickCount":60,"tickSize":{"condition":{"test":"abs(datum.value*50-round(datum.value*50))<0.01","value":-5},"value":-2.5}}},
   "y":{"field":"I","type":"quantitative","title":null,"axis":{"orient":"right","labels":false,"values":[-100,0,100,200,300,400,500,600],"tickSize":{"condition":{"test":"datum.value%200==0","value":-5},"value":-2.5}}}}}
 ],"resolve":{"axis":{"x":"independent","y":"independent"}}},
{"width":197,"height":123,"title":"672∗","layer":[
 {"data":{"name":"obs"},"transform":[{"filter":"datum.p==7"}],"mark":{"type":"line","color":"black","strokeWidth":1.5,"clip":true},
  "encoding":{"x":{"field":"f","type":"quantitative","scale":{"domain":[333.8069,333.8662],"nice":false,"zero":false},"axis":{"orient":"bottom","title":"Freq. [GHz]","titleX":206,"titleY":37,"titleBaseline":"middle","tickCount":60,"labelExpr":"abs((datum.value-0.01)*50-round((datum.value-0.01)*50))<0.01 ? format(datum.value,'.2f') : ''","tickSize":{"condition":{"test":"abs((datum.value-0.01)*50-round((datum.value-0.01)*50))<0.01","value":-5},"value":-2.5}}},
   "y":{"field":"I","type":"quantitative","title":null,"scale":{"domain":[-117,600],"nice":false},"axis":{"orient":"left","values":[-100,0,100,200,300,400,500,600],"labelExpr":"datum.value%200==0&&datum.value>=0?datum.label:''","tickSize":{"condition":{"test":"datum.value%200==0","value":-5},"value":-2.5}}}}},
 {"data":{"name":"model"},"transform":[{"filter":"datum.p==7"}],"mark":{"type":"line","color":"#ff0000","strokeWidth":1.3,"clip":true},
  "encoding":{"x":{"field":"f","type":"quantitative","title":null,"axis":{"orient":"top","labels":false,"tickCount":60,"tickSize":{"condition":{"test":"abs((datum.value-0.01)*50-round((datum.value-0.01)*50))<0.01","value":-5},"value":-2.5}}},
   "y":{"field":"I","type":"quantitative","title":null,"axis":{"orient":"right","labels":false,"values":[-100,0,100,200,300,400,500,600],"tickSize":{"condition":{"test":"datum.value%200==0","value":-5},"value":-2.5}}}}}
 ],"resolve":{"axis":{"x":"independent","y":"independent"}}},
{"width":197,"height":123,"title":"680","layer":[
 {"data":{"name":"obs"},"transform":[{"filter":"datum.p==8"}],"mark":{"type":"line","color":"black","strokeWidth":1.5,"clip":true},
  "encoding":{"x":{"field":"f","type":"quantitative","title":null,"scale":{"domain":[360.7498,360.8102],"nice":false,"zero":false},"axis":{"orient":"bottom","tickCount":60,"labelExpr":"abs(datum.value*50-round(datum.value*50))<0.01 ? format(datum.value,'.2f') : ''","tickSize":{"condition":{"test":"abs(datum.value*50-round(datum.value*50))<0.01","value":-5},"value":-2.5}}},
   "y":{"field":"I","type":"quantitative","title":null,"scale":{"domain":[-117,600],"nice":false},"axis":{"orient":"left","labels":false,"values":[-100,0,100,200,300,400,500,600],"tickSize":{"condition":{"test":"datum.value%200==0","value":-5},"value":-2.5}}}}},
 {"data":{"name":"model"},"transform":[{"filter":"datum.p==8"}],"mark":{"type":"line","color":"#ff0000","strokeWidth":1.3,"clip":true},
  "encoding":{"x":{"field":"f","type":"quantitative","title":null,"axis":{"orient":"top","labels":false,"tickCount":60,"tickSize":{"condition":{"test":"abs(datum.value*50-round(datum.value*50))<0.01","value":-5},"value":-2.5}}},
   "y":{"field":"I","type":"quantitative","title":null,"axis":{"orient":"right","labels":false,"values":[-100,0,100,200,300,400,500,600],"tickSize":{"condition":{"test":"datum.value%200==0","value":-5},"value":-2.5}}}}}
 ],"resolve":{"axis":{"x":"independent","y":"independent"}}}
],
"config":{
 "view":{"stroke":"black","strokeWidth":1},
 "axis":{"domain":false,"grid":false,"labelFont":"Liberation Sans","labelFontWeight":"bold","labelFontSize":10.5,"labelColor":"black","tickColor":"black","tickWidth":1,"labelPadding":5,"labelOverlap":false,"labelFlush":false,"titleFont":"DejaVu Sans","titleFontWeight":"normal","titleFontSize":16,"titleColor":"black"},
 "axisY":{"labelFlush":true},
 "title":{"anchor":"start","frame":"group","offset":-21,"dx":23,"baseline":"alphabetic","font":"DejaVu Sans","fontSize":14,"fontWeight":"normal","color":"black"}
}
}
